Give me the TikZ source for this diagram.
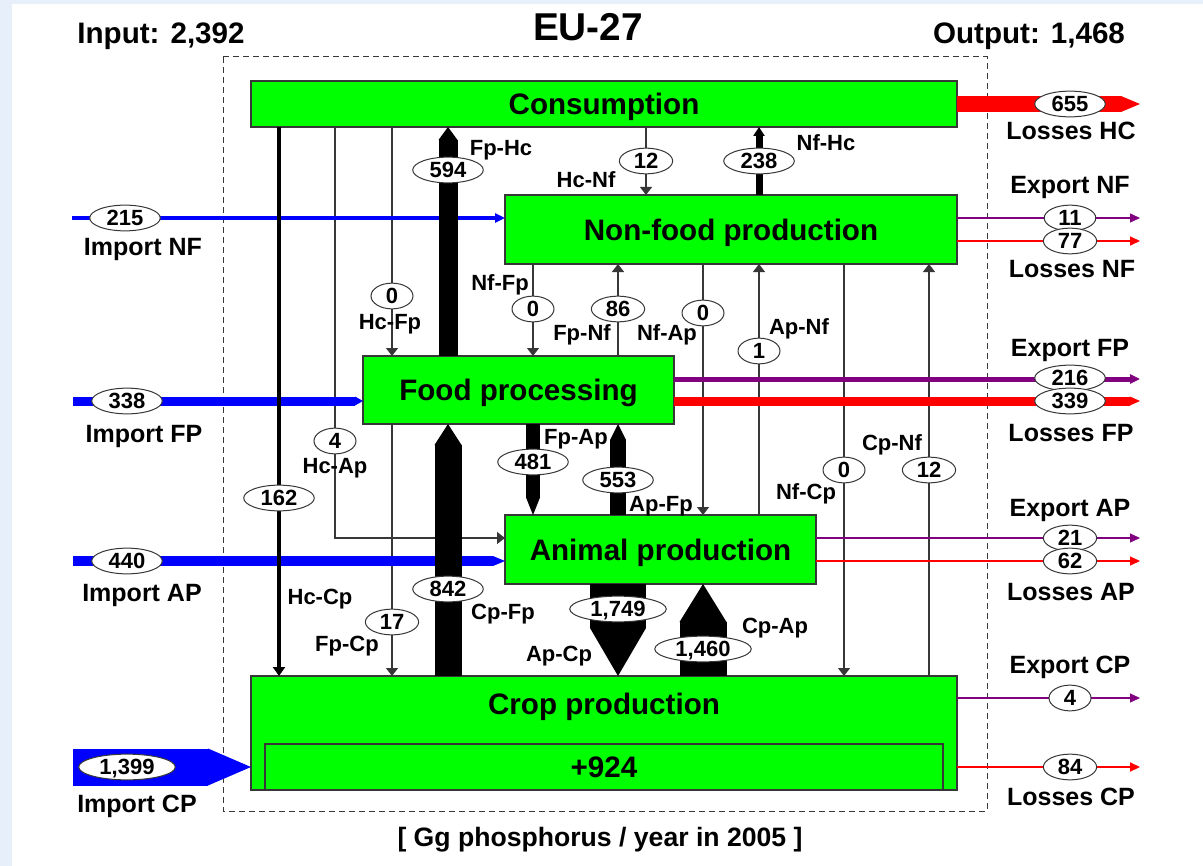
\documentclass[tikz,border=0pt]{standalone}
\usepackage{fontspec}
\setmainfont{Liberation Sans}
\usepackage{tikz}
\usetikzlibrary{arrows.meta,shapes.geometric}

\definecolor{boxgreen}{RGB}{0,255,0}
\definecolor{flowblue}{RGB}{0,0,255}
\definecolor{flowred}{RGB}{255,0,0}
\definecolor{flowpurple}{RGB}{128,0,128}
\definecolor{slide}{RGB}{230,239,250}
\definecolor{edge}{RGB}{55,55,55}

\begin{document}
\begin{tikzpicture}[x=0.5pt,y=-0.5pt,
box/.style={draw=edge,line width=0.7pt,fill=boxgreen,inner sep=0pt,outer sep=0pt,
  text height=10.6pt,text depth=0pt,font=\fontsize{14.8}{16}\selectfont\bfseries},
num/.style={ellipse,draw=edge,line width=0.5pt,fill=white,inner xsep=3.3pt,inner ysep=0.3pt,
  minimum width=21pt,minimum height=12.5pt,
  text height=7.9pt,text depth=0.6pt,font=\fontsize{11}{12}\selectfont\bfseries},
lab/.style={text height=7.9pt,text depth=0pt,font=\fontsize{11}{12}\selectfont\bfseries},
side/.style={text height=9pt,text depth=0pt,font=\fontsize{12.5}{14}\selectfont\bfseries},
title/.style={text height=10.6pt,text depth=0pt,font=\fontsize{14.8}{16}\selectfont\bfseries},
flow/.style={draw=edge,line width=0.55pt,-{Triangle[length=4pt,width=6pt]}},
fat/.style args={#1/#2}{line width=#1,-{Triangle[length=#2,width=0pt 1,line width=0pt]}}]
\useasboundingbox (0,0) rectangle (1203,866);
\fill[slide] (0,0) rectangle (1203,866);
\fill[white] (12,4) rectangle (1203,866);
\draw[edge,line width=0.5pt,dash pattern=on 3pt off 2pt] (223,57) rectangle (987,811);

\node[box,minimum width=353pt,minimum height=23pt] (cons) at (604,104) {Consumption};
\node[box,minimum width=226pt,minimum height=34.5pt] (nf) at (731,229.5) {Non-food production};
\node[box,minimum width=155.5pt,minimum height=34pt] (fp) at (518.5,390) {Food processing};
\node[box,minimum width=155.5pt,minimum height=34.5pt] (ap) at (660.5,549.5) {Animal production};
\node[box,minimum width=353pt,minimum height=57pt] (crop) at (604,733) {};
\node[title] (croplab) at (604,704) {Crop production};
\node[box,minimum width=339pt,minimum height=23pt] (surplus) at (604,767) {+924};

\coordinate (cHcCp) at (279,0);
\coordinate (cHcAp) at (335,0);
\coordinate (cHcFp) at (392,0);
\coordinate (cFpHc) at (448,0);
\coordinate (cFpAp) at (533,0);
\coordinate (cApFp) at (618,0);
\coordinate (cHcNf) at (646,0);
\coordinate (cNfAp) at (703,0);
\coordinate (cApNf) at (759,0);
\coordinate (cNfCp) at (844,0);
\coordinate (cCpNf) at (929,0);
\coordinate (iNF) at (72,218);
\coordinate (iFP) at (73,401);
\coordinate (iAP) at (73,561);
\coordinate (iCP) at (73,767);
\coordinate (eLHC) at (1140,104);
\coordinate (eXNF) at (1140,218);
\coordinate (eLNF) at (1140,241);
\coordinate (eXFP) at (1140,379);
\coordinate (eLFP) at (1140,401);
\coordinate (eXAP) at (1140,538);
\coordinate (eLAP) at (1140,561);
\coordinate (eXCP) at (1140,698);
\coordinate (eLCP) at (1140,767);

\draw[flow] (cons.south -| cHcAp) |- (ap.west |- eXAP);
\draw[flow] (cons.south -| cHcFp) -- (fp.north -| cHcFp);
\draw[flow] (fp.south -| cHcFp) -- (crop.north -| cHcFp);
\draw[flow] (cons.south -| cHcNf) -- (nf.north -| cHcNf);
\draw[flow] (nf.south -| cFpAp) -- (fp.north -| cFpAp);
\draw[flow,line width=0.8pt] (fp.north -| cApFp) -- (nf.south -| cApFp);
\draw[flow] (nf.south -| cNfAp) -- (ap.north -| cNfAp);
\draw[flow] (ap.north -| cApNf) -- (nf.south -| cApNf);
\draw[flow] (nf.south -| cNfCp) -- (crop.north -| cNfCp);
\draw[flow] (crop.north -| cCpNf) -- (nf.south -| cCpNf);

\draw[flowblue,line width=2pt,-{Triangle[length=5pt,width=4.5pt]}] (iNF) -- (nf.west |- iNF);
\draw[flowblue,fat=4.5pt/4pt] (iFP) -- (fp.west |- iFP);
\draw[flowblue,fat=5pt/6pt] (iAP) -- (ap.west |- iAP);
\draw[flowblue,fat=18.5pt/21.5pt] (iCP) -- (crop.west |- iCP);

\draw[flowred,fat=8pt/9.5pt] (cons.east) -- (eLHC);
\draw[flowpurple,line width=0.6pt,-{Triangle[length=5pt,width=4.5pt]}] (nf.east |- eXNF) -- (eXNF);
\draw[flowred,line width=0.8pt,-{Triangle[length=5pt,width=4.5pt]}] (nf.east |- eLNF) -- (eLNF);
\draw[flowpurple,line width=2.5pt,-{Triangle[length=5pt,width=4.5pt]}] (fp.east |- eXFP) -- (eXFP);
\draw[flowred,fat=4.5pt/5pt] (fp.east |- eLFP) -- (eLFP);
\draw[flowpurple,line width=0.6pt,-{Triangle[length=5pt,width=4.5pt]}] (ap.east |- eXAP) -- (eXAP);
\draw[flowred,line width=0.6pt,-{Triangle[length=5pt,width=4.5pt]}] (ap.east |- eLAP) -- (eLAP);
\draw[flowpurple,line width=0.6pt,-{Triangle[length=5pt,width=4.5pt]}] (crop.east |- eXCP) -- (eXCP);
\draw[flowred,line width=1pt,-{Triangle[length=5pt,width=4.5pt]}] (crop.east |- eLCP) -- (eLCP);

\draw[line width=2pt,-{Triangle[length=4.5pt,width=6pt]}] (cons.south -| cHcCp) -- (crop.north -| cHcCp);
\draw[line width=3.5pt,-{Triangle[length=4.5pt,width=5.5pt]}] (nf.north -| cApNf) -- (cons.south -| cApNf);
\draw[fat=9.5pt/6.5pt] (fp.north -| cFpHc) -- (cons.south -| cFpHc);
\draw[fat=13.5pt/10.5pt] (crop.north -| cFpHc) -- (fp.south -| cFpHc);
\draw[fat=6.8pt/8.5pt] (fp.south -| cFpAp) -- (ap.north -| cFpAp);
\draw[fat=8pt/8pt] (ap.north -| cApFp) -- (fp.south -| cApFp);
\draw[fat=28pt/24pt] (ap.south -| cApFp) -- (crop.north -| cApFp);
\draw[fat=23.5pt/19pt] (crop.north -| cNfAp) -- (ap.south -| cNfAp);

\node[num] (vHcCp) at (279,498) {162};
\node[num] (vHcAp) at (335,441) {4};
\node[num] (vHcFp) at (392,296) {0};
\node[num] (vFpCp) at (392,622) {17};
\node[num] (vFpHc) at (448,170) {594};
\node[num] (vCpFp) at (448,589) {842};
\node[num] (vFpAp) at (533,462) {481};
\node[num] (vApFp) at (618,480) {553};
\node[num] (vNfFp) at (533,309) {0};
\node[num] (vFpNf) at (618,309) {86};
\node[num] (vNfAp) at (703,313) {0};
\node[num] (vApNf) at (759,351) {1};
\node[num] (vHcNf) at (646,161) {12};
\node[num] (vNfHc) at (759,161) {238};
\node[num] (vNfCp) at (844,470) {0};
\node[num] (vCpNf) at (929,470) {12};
\node[num] (vApCp) at (618,609) {1,749};
\node[num] (vCpAp) at (703,649) {1,460};
\node[num] (vINF) at (125,218) {215};
\node[num] (vIFP) at (127,401) {338};
\node[num] (vIAP) at (127,561) {440};
\node[num] (vICP) at (127,767) {1,399};
\node[num] (vLHC) at (1070,104) {655};
\node[num] (vXNF) at (1070,218) {11};
\node[num] (vLNF) at (1070,241) {77};
\node[num] (vXFP) at (1070,378) {216};
\node[num] (vLFP) at (1070,401) {339};
\node[num] (vXAP) at (1070,538) {21};
\node[num] (vLAP) at (1070,561) {62};
\node[num] (vXCP) at (1070,698) {4};
\node[num] (vLCP) at (1070,767) {84};

\node[lab] (tFpHc) at (501,148) {Fp-Hc};
\node[lab] (tHcNf) at (586,180) {Hc-Nf};
\node[lab] (tNfHc) at (826,143) {Nf-Hc};
\node[lab] (tNfFp) at (500,283) {Nf-Fp};
\node[lab] (tHcFp) at (390,322) {Hc-Fp};
\node[lab] (tFpNf) at (582,333) {Fp-Nf};
\node[lab] (tNfAp) at (667,333) {Nf-Ap};
\node[lab] (tApNf) at (799,327) {Ap-Nf};
\node[lab] (tHcAp) at (335,466) {Hc-Ap};
\node[lab] (tFpAp) at (576,437) {Fp-Ap};
\node[lab] (tCpNf) at (892,443) {Cp-Nf};
\node[lab] (tApFp) at (661,504) {Ap-Fp};
\node[lab] (tNfCp) at (806,492) {Nf-Cp};
\node[lab] (tHcCp) at (320,597) {Hc-Cp};
\node[lab] (tCpFp) at (503,612) {Cp-Fp};
\node[lab] (tFpCp) at (347,644) {Fp-Cp};
\node[lab] (tCpAp) at (775,626) {Cp-Ap};
\node[lab] (tApCp) at (559,654) {Ap-Cp};

\node[side] (oINF) at (143,247) {Import NF};
\node[side] (oIFP) at (144,433) {Import FP};
\node[side] (oIAP) at (142,592) {Import AP};
\node[side] (oICP) at (137,803) {Import CP};
\node[side] (oLHC) at (1071,131) {Losses HC};
\node[side] (oXNF) at (1070,185) {Export NF};
\node[side] (oLNF) at (1072,269) {Losses NF};
\node[side] (oXFP) at (1070,347) {Export FP};
\node[side] (oLFP) at (1071,432) {Losses FP};
\node[side] (oXAP) at (1070,507) {Export AP};
\node[side] (oLAP) at (1071,591) {Losses AP};
\node[side] (oXCP) at (1070,664) {Export CP};
\node[side] (oLCP) at (1071,796) {Losses CP};

\node[title] (input) at (161,33) {Input: 2,392};
\node[title,text height=13.9pt,font=\fontsize{19.4}{21}\selectfont\bfseries] (region) at (588,27) {EU-27};
\node[title] (output) at (1029,33) {Output: 1,468};
\node[title,font=\fontsize{13.3}{15}\selectfont\bfseries,text height=9.6pt] (unit) at (600,837) {[ Gg phosphorus / year in 2005 ]};
\end{tikzpicture}
\end{document}
